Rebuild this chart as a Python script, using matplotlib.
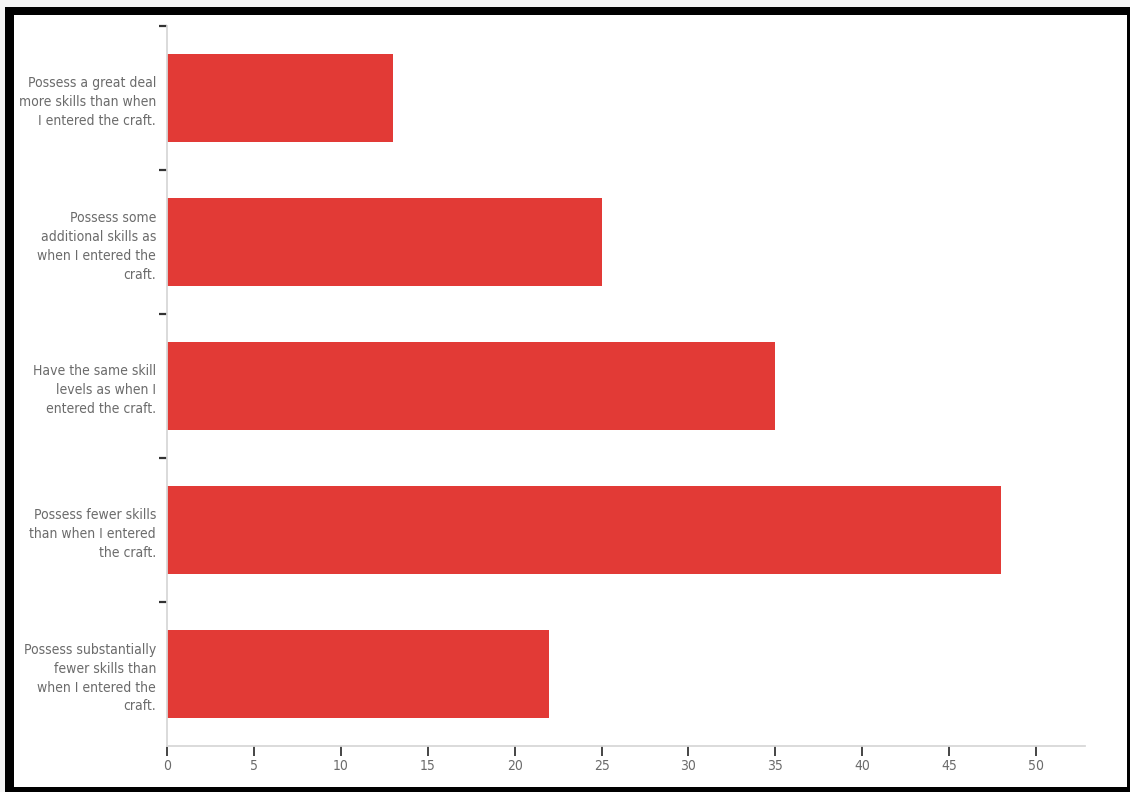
import matplotlib.pyplot as plt
from matplotlib.patches import Rectangle

# Survey answers, top to bottom
labels = [
    'Possess a great deal\nmore skills than when\nI entered the craft.',
    'Possess some\nadditional skills as\nwhen I entered the\ncraft.',
    'Have the same skill\nlevels as when I\nentered the craft.',
    'Possess fewer skills\nthan when I entered\nthe craft.',
    'Possess substantially\nfewer skills than\nwhen I entered the\ncraft.',
]
counts = [13, 25, 35, 48, 22]
x_ticks = [0, 5, 10, 15, 20, 25, 30, 35, 40, 45, 50]

bar_color = '#e23a36'
text_color = '#6b6b6b'

fig = plt.figure(figsize=(11.3, 7.92), dpi=100)
ax = fig.add_axes([0.1478, 0.058, 0.8122, 0.909])

pos = list(range(len(labels)))
ax.barh(pos, counts, height=0.61, color=bar_color)

ax.set_ylim(len(labels) - 0.5, -0.5)
ax.set_xlim(0, 52.8)

# separator ticks between categories, labels at centres
ax.set_yticks([p - 0.5 for p in pos])
ax.set_yticklabels([])
ax.set_yticks(pos, minor=True)
ax.set_yticklabels(labels, minor=True, fontsize=10, color=text_color,
                   family='DejaVu Sans', fontstretch='condensed', linespacing=1.45)
ax.tick_params(axis='y', which='major', length=6, width=1.6, color='#333333', direction='out')
ax.tick_params(axis='y', which='minor', length=0, pad=8)

ax.set_xticks(x_ticks)
ax.set_xticklabels([str(t) for t in x_ticks], fontsize=10, color=text_color,
                   family='DejaVu Sans', fontstretch='condensed')
ax.tick_params(axis='x', length=7, width=1.4, color='#444444', pad=2)

for s in ['top', 'right']:
    ax.spines[s].set_visible(False)
ax.spines['left'].set_color('#d8d8d8')
ax.spines['bottom'].set_color('#d8d8d8')
ax.spines['left'].set_linewidth(1.3)
ax.spines['bottom'].set_linewidth(1.3)

# black frame round the picture
W, H = 1130, 792
fig.patches.append(Rectangle((0, 0), 1, 1, transform=fig.transFigure,
                             facecolor='#f4f4f4', edgecolor='none', zorder=-3))
fig.patches.append(Rectangle((5 / W, 0), 1 - 5 / W, 1 - 7 / H, transform=fig.transFigure,
                             facecolor='black', edgecolor='none', zorder=-2))
fig.patches.append(Rectangle((14 / W, 5 / H), 1 - 17 / W, 1 - 20 / H, transform=fig.transFigure,
                             facecolor='white', edgecolor='none', zorder=-1))

fig.savefig('out.png', dpi=100)
